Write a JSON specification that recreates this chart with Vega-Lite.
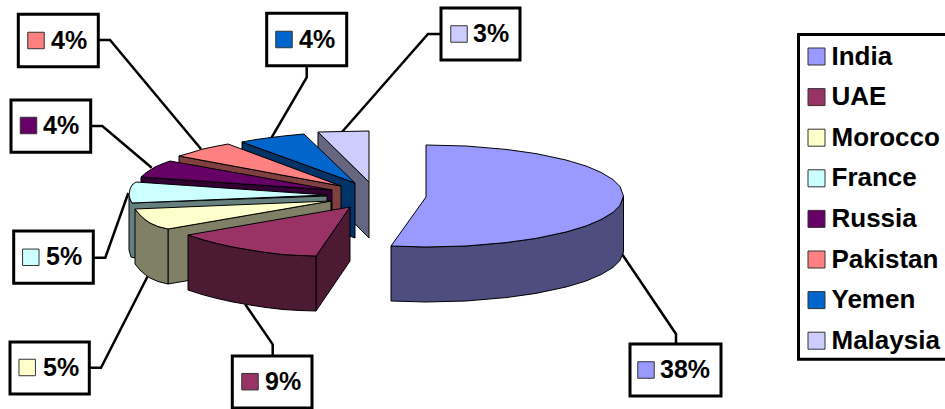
{
  "$schema": "https://vega.github.io/schema/vega-lite/v6.json",
  "width": 945,
  "height": 409,
  "padding": 0,
  "autosize": "none",
  "background": "white",
  "view": {"stroke": null},
  "config": {"font": "Liberation Sans"},
  "datasets": {
    "sides": [
      {"slice":"Malaysia","face":"cut","step":1,"x":318,"y":132},{"slice":"Malaysia","face":"cut","step":2,"x":369,"y":182},{"slice":"Malaysia","face":"cut","step":3,"x":369,"y":238},{"slice":"Malaysia","face":"cut","step":4,"x":318,"y":187},
      {"slice":"Yemen","face":"cut","step":1,"x":242,"y":142},{"slice":"Yemen","face":"cut","step":2,"x":355,"y":183},{"slice":"Yemen","face":"cut","step":3,"x":355,"y":238},{"slice":"Yemen","face":"cut","step":4,"x":242,"y":197},
      {"slice":"Pakistan","face":"cut","step":1,"x":179,"y":156},{"slice":"Pakistan","face":"cut","step":2,"x":341,"y":186},{"slice":"Pakistan","face":"cut","step":3,"x":341,"y":241},{"slice":"Pakistan","face":"cut","step":4,"x":179,"y":211},
      {"slice":"Russia","face":"cut","step":1,"x":141,"y":177},{"slice":"Russia","face":"cut","step":2,"x":332,"y":190},{"slice":"Russia","face":"cut","step":3,"x":332,"y":245},{"slice":"Russia","face":"cut","step":4,"x":141,"y":232},
      {"slice":"France","face":"cut","step":1,"x":129,"y":195},{"slice":"France","face":"cut","step":2,"x":130,"y":199},{"slice":"France","face":"cut","step":3,"x":132,"y":203},{"slice":"France","face":"cut","step":4,"x":327,"y":196},{"slice":"France","face":"cut","step":5,"x":327,"y":251},{"slice":"France","face":"cut","step":6,"x":135,"y":258},{"slice":"France","face":"cut","step":7,"x":131,"y":257},{"slice":"France","face":"cut","step":8,"x":129,"y":250},
      {"slice":"Morocco","face":"cut","step":1,"x":168,"y":229},{"slice":"Morocco","face":"cut","step":2,"x":331,"y":201},{"slice":"Morocco","face":"cut","step":3,"x":331,"y":256},{"slice":"Morocco","face":"cut","step":4,"x":168,"y":284},
      {"slice":"Morocco","face":"rim","step":1,"x":135,"y":209},{"slice":"Morocco","face":"rim","step":2,"x":140,"y":215},{"slice":"Morocco","face":"rim","step":3,"x":145,"y":219.5},{"slice":"Morocco","face":"rim","step":4,"x":150,"y":223},{"slice":"Morocco","face":"rim","step":5,"x":158,"y":226.5},{"slice":"Morocco","face":"rim","step":6,"x":168,"y":229},{"slice":"Morocco","face":"rim","step":7,"x":168,"y":284},{"slice":"Morocco","face":"rim","step":8,"x":158,"y":281.5},{"slice":"Morocco","face":"rim","step":9,"x":150,"y":278},{"slice":"Morocco","face":"rim","step":10,"x":145,"y":274.5},{"slice":"Morocco","face":"rim","step":11,"x":140,"y":270},{"slice":"Morocco","face":"rim","step":12,"x":135,"y":264},
      {"slice":"UAE","face":"cut","step":1,"x":316,"y":256},{"slice":"UAE","face":"cut","step":2,"x":350,"y":207},{"slice":"UAE","face":"cut","step":3,"x":350,"y":261},{"slice":"UAE","face":"cut","step":4,"x":316,"y":311},
      {"slice":"UAE","face":"rim","step":1,"x":188,"y":235},{"slice":"UAE","face":"rim","step":2,"x":202,"y":239.5},{"slice":"UAE","face":"rim","step":3,"x":217,"y":243.5},{"slice":"UAE","face":"rim","step":4,"x":233,"y":247},{"slice":"UAE","face":"rim","step":5,"x":250,"y":250},{"slice":"UAE","face":"rim","step":6,"x":266,"y":252.5},{"slice":"UAE","face":"rim","step":7,"x":283,"y":254.5},{"slice":"UAE","face":"rim","step":8,"x":300,"y":255.5},{"slice":"UAE","face":"rim","step":9,"x":316,"y":256},{"slice":"UAE","face":"rim","step":10,"x":316,"y":311},{"slice":"UAE","face":"rim","step":11,"x":300,"y":310.5},{"slice":"UAE","face":"rim","step":12,"x":283,"y":309.5},{"slice":"UAE","face":"rim","step":13,"x":266,"y":307.5},{"slice":"UAE","face":"rim","step":14,"x":250,"y":305},{"slice":"UAE","face":"rim","step":15,"x":233,"y":302},{"slice":"UAE","face":"rim","step":16,"x":217,"y":298.5},{"slice":"UAE","face":"rim","step":17,"x":202,"y":294.5},{"slice":"UAE","face":"rim","step":18,"x":188,"y":290},
      {"slice":"India","face":"rim","step":1,"x":391,"y":246},{"slice":"India","face":"rim","step":2,"x":426,"y":247},{"slice":"India","face":"rim","step":3,"x":466,"y":246},{"slice":"India","face":"rim","step":4,"x":506,"y":242.6},{"slice":"India","face":"rim","step":5,"x":536,"y":238.4},{"slice":"India","face":"rim","step":6,"x":566,"y":232},{"slice":"India","face":"rim","step":7,"x":586,"y":226},{"slice":"India","face":"rim","step":8,"x":601,"y":219.6},{"slice":"India","face":"rim","step":9,"x":613,"y":212.4},{"slice":"India","face":"rim","step":10,"x":620,"y":205.5},{"slice":"India","face":"rim","step":11,"x":623.5,"y":196},{"slice":"India","face":"rim","step":12,"x":623.5,"y":252},{"slice":"India","face":"rim","step":13,"x":620,"y":260.5},{"slice":"India","face":"rim","step":14,"x":613,"y":267.4},{"slice":"India","face":"rim","step":15,"x":601,"y":274.6},{"slice":"India","face":"rim","step":16,"x":586,"y":281},{"slice":"India","face":"rim","step":17,"x":566,"y":287},{"slice":"India","face":"rim","step":18,"x":536,"y":293.4},{"slice":"India","face":"rim","step":19,"x":506,"y":297.6},{"slice":"India","face":"rim","step":20,"x":466,"y":301},{"slice":"India","face":"rim","step":21,"x":426,"y":302},{"slice":"India","face":"rim","step":22,"x":391,"y":301}
    ],
    "tops": [
      {"slice":"Malaysia","step":1,"x":318,"y":132},{"slice":"Malaysia","step":2,"x":343,"y":131.5},{"slice":"Malaysia","step":3,"x":369,"y":131},{"slice":"Malaysia","step":4,"x":369,"y":182},
      {"slice":"Yemen","step":1,"x":242,"y":142},{"slice":"Yemen","step":2,"x":256,"y":139.5},{"slice":"Yemen","step":3,"x":271,"y":137.5},{"slice":"Yemen","step":4,"x":288,"y":135.5},{"slice":"Yemen","step":5,"x":304,"y":134},{"slice":"Yemen","step":6,"x":355,"y":183},
      {"slice":"Pakistan","step":1,"x":179,"y":156},{"slice":"Pakistan","step":2,"x":190,"y":153},{"slice":"Pakistan","step":3,"x":203,"y":149},{"slice":"Pakistan","step":4,"x":215,"y":146.5},{"slice":"Pakistan","step":5,"x":228,"y":144},{"slice":"Pakistan","step":6,"x":341,"y":186},
      {"slice":"Russia","step":1,"x":141,"y":177},{"slice":"Russia","step":2,"x":147,"y":172},{"slice":"Russia","step":3,"x":155,"y":167},{"slice":"Russia","step":4,"x":162,"y":164},{"slice":"Russia","step":5,"x":170,"y":161},{"slice":"Russia","step":6,"x":332,"y":190},
      {"slice":"France","step":1,"x":136,"y":182},{"slice":"France","step":2,"x":132,"y":185},{"slice":"France","step":3,"x":130,"y":189},{"slice":"France","step":4,"x":129,"y":195},{"slice":"France","step":5,"x":130,"y":199},{"slice":"France","step":6,"x":132,"y":203},{"slice":"France","step":7,"x":327,"y":195},
      {"slice":"Morocco","step":1,"x":135,"y":209},{"slice":"Morocco","step":2,"x":140,"y":215},{"slice":"Morocco","step":3,"x":145,"y":219.5},{"slice":"Morocco","step":4,"x":150,"y":223},{"slice":"Morocco","step":5,"x":158,"y":226.5},{"slice":"Morocco","step":6,"x":168,"y":229},{"slice":"Morocco","step":7,"x":331,"y":201},
      {"slice":"UAE","step":1,"x":188,"y":235},{"slice":"UAE","step":2,"x":202,"y":239.5},{"slice":"UAE","step":3,"x":217,"y":243.5},{"slice":"UAE","step":4,"x":233,"y":247},{"slice":"UAE","step":5,"x":250,"y":250},{"slice":"UAE","step":6,"x":266,"y":252.5},{"slice":"UAE","step":7,"x":283,"y":254.5},{"slice":"UAE","step":8,"x":300,"y":255.5},{"slice":"UAE","step":9,"x":316,"y":256},{"slice":"UAE","step":10,"x":350,"y":207},
      {"slice":"India","step":1,"x":426,"y":145},{"slice":"India","step":2,"x":466,"y":146},{"slice":"India","step":3,"x":506,"y":149.4},{"slice":"India","step":4,"x":536,"y":153.6},{"slice":"India","step":5,"x":566,"y":160},{"slice":"India","step":6,"x":586,"y":166},{"slice":"India","step":7,"x":601,"y":172.4},{"slice":"India","step":8,"x":613,"y":179.6},{"slice":"India","step":9,"x":620,"y":186.5},{"slice":"India","step":10,"x":623.5,"y":196},{"slice":"India","step":11,"x":620,"y":205.5},{"slice":"India","step":12,"x":613,"y":212.4},{"slice":"India","step":13,"x":601,"y":219.6},{"slice":"India","step":14,"x":586,"y":226},{"slice":"India","step":15,"x":566,"y":232},{"slice":"India","step":16,"x":536,"y":238.4},{"slice":"India","step":17,"x":506,"y":242.6},{"slice":"India","step":18,"x":466,"y":246},{"slice":"India","step":19,"x":426,"y":247},{"slice":"India","step":20,"x":391,"y":246},{"slice":"India","step":21,"x":426,"y":197}
    ],
    "leaders": [
      {"slice":"India","step":1,"x":676,"y":344},{"slice":"India","step":2,"x":676,"y":334},{"slice":"India","step":3,"x":622,"y":254},
      {"slice":"UAE","step":1,"x":272.7,"y":356},{"slice":"UAE","step":2,"x":272.7,"y":344.3},{"slice":"UAE","step":3,"x":245,"y":304},
      {"slice":"Morocco","step":1,"x":89.3,"y":367.7},{"slice":"Morocco","step":2,"x":101,"y":367.7},{"slice":"Morocco","step":3,"x":148.3,"y":275},
      {"slice":"France","step":1,"x":93.3,"y":257.7},{"slice":"France","step":2,"x":105.3,"y":257.7},{"slice":"France","step":3,"x":128.3,"y":193},
      {"slice":"Russia","step":1,"x":90.7,"y":126},{"slice":"Russia","step":2,"x":102.3,"y":126},{"slice":"Russia","step":3,"x":151.7,"y":167.7},
      {"slice":"Pakistan","step":1,"x":98,"y":40},{"slice":"Pakistan","step":2,"x":110,"y":40},{"slice":"Pakistan","step":3,"x":201,"y":149},
      {"slice":"Yemen","step":1,"x":306.7,"y":65.7},{"slice":"Yemen","step":2,"x":306.7,"y":77.3},{"slice":"Yemen","step":3,"x":271.7,"y":137.3},
      {"slice":"Malaysia","step":1,"x":441,"y":34},{"slice":"Malaysia","step":2,"x":428,"y":34},{"slice":"Malaysia","step":3,"x":342,"y":132}
    ],
    "labels": [
      {"slice":"India","share":0.38,"left":630,"right":721,"top":344,"bottom":396,"keyX":646,"textX":660,"midY":370},
      {"slice":"UAE","share":0.09,"left":232.3,"right":312,"top":356,"bottom":408,"keyX":250,"textX":265,"midY":381.7},
      {"slice":"Morocco","share":0.05,"left":10,"right":89.3,"top":342,"bottom":394,"keyX":27.2,"textX":43,"midY":367.5},
      {"slice":"France","share":0.05,"left":13.7,"right":93.3,"top":231,"bottom":283.3,"keyX":30.8,"textX":46,"midY":257.3},
      {"slice":"Russia","share":0.04,"left":11,"right":90.7,"top":100,"bottom":152.3,"keyX":28.5,"textX":43,"midY":125.5},
      {"slice":"Pakistan","share":0.04,"left":18.3,"right":98.3,"top":14.3,"bottom":66.7,"keyX":36,"textX":51,"midY":40.5},
      {"slice":"Yemen","share":0.04,"left":266.7,"right":346.7,"top":13.3,"bottom":65.7,"keyX":284,"textX":299,"midY":39.5},
      {"slice":"Malaysia","share":0.03,"left":441,"right":520,"top":8,"bottom":60,"keyX":459,"textX":473,"midY":34}
    ],
    "frame": [
      {"left":798.5,"right":950,"top":34.5,"bottom":359.3}
    ]
  },
  "layer": [
    {
      "description": "Leader lines from each label box to its slice",
      "data": {"name": "leaders"},
      "mark": {"type": "line", "stroke": "black", "strokeWidth": 2.5, "strokeJoin": "miter"},
      "encoding": {
        "x": {"field": "x", "type": "quantitative", "scale": {"domain": [0, 945], "nice": false, "zero": false}, "axis": null},
        "y": {"field": "y", "type": "quantitative", "scale": {"domain": [409, 0], "nice": false, "zero": false}, "axis": null},
        "detail": {"field": "slice"},
        "order": {"field": "step", "type": "quantitative"}
      }
    },
    {
      "description": "Shaded thickness of the slices",
      "data": {"name": "sides"},
      "mark": {"type": "line", "interpolate": "linear-closed", "stroke": "black", "strokeWidth": 1},
      "encoding": {
        "x": {"field": "x", "type": "quantitative", "axis": null},
        "y": {"field": "y", "type": "quantitative", "axis": null},
        "fill": {
          "field": "slice",
          "type": "nominal",
          "legend": null,
          "scale": {
            "domain": ["India", "UAE", "Morocco", "France", "Russia", "Pakistan", "Yemen", "Malaysia"],
            "range": ["#4D4D80", "#4D1A33", "#808066", "#668080", "#330033", "#804040", "#003366", "#666680"]
          }
        },
        "detail": {"field": "face"},
        "order": {"field": "step", "type": "quantitative"}
      }
    },
    {
      "description": "Top faces of the slices",
      "data": {"name": "tops"},
      "mark": {"type": "line", "interpolate": "linear-closed", "stroke": "black", "strokeWidth": 1},
      "encoding": {
        "x": {"field": "x", "type": "quantitative", "axis": null},
        "y": {"field": "y", "type": "quantitative", "axis": null},
        "fill": {
          "field": "slice",
          "type": "nominal",
          "legend": null,
          "scale": {
            "domain": ["India", "UAE", "Morocco", "France", "Russia", "Pakistan", "Yemen", "Malaysia"],
            "range": ["#9999FF", "#993366", "#FFFFCC", "#CCFFFF", "#660066", "#FF8080", "#0066CC", "#CCCCFF"]
          }
        },
        "order": {"field": "step", "type": "quantitative"}
      }
    },
    {
      "description": "Frame around the legend; it runs past the right edge of the canvas",
      "data": {"name": "frame"},
      "mark": {"type": "rect", "fill": null, "stroke": "black", "strokeWidth": 3},
      "encoding": {
        "x": {"field": "left", "type": "quantitative", "axis": null},
        "x2": {"field": "right"},
        "y": {"field": "top", "type": "quantitative", "axis": null},
        "y2": {"field": "bottom"}
      }
    },
    {
      "description": "Label boxes",
      "data": {"name": "labels"},
      "mark": {"type": "rect", "fill": "white", "stroke": "black", "strokeWidth": 3},
      "encoding": {
        "x": {"field": "left", "type": "quantitative", "axis": null},
        "x2": {"field": "right"},
        "y": {"field": "top", "type": "quantitative", "axis": null},
        "y2": {"field": "bottom"}
      }
    },
    {
      "description": "Colour keys inside the label boxes, which also carry the legend",
      "data": {"name": "labels"},
      "mark": {"type": "point", "shape": "square", "filled": true, "size": 272, "opacity": 1, "stroke": "#333333", "strokeWidth": 1},
      "encoding": {
        "x": {"field": "keyX", "type": "quantitative", "axis": null},
        "y": {"field": "midY", "type": "quantitative", "axis": null},
        "fill": {
          "field": "slice",
          "type": "nominal",
          "scale": {
            "domain": ["India", "UAE", "Morocco", "France", "Russia", "Pakistan", "Yemen", "Malaysia"],
            "range": ["#9999FF", "#993366", "#FFFFCC", "#CCFFFF", "#660066", "#FF8080", "#0066CC", "#CCCCFF"]
          },
          "legend": {
            "title": null,
            "orient": "none",
            "legendX": 803.5,
            "legendY": 43.5,
            "padding": 0,
            "symbolType": "square",
            "symbolSize": 289,
            "symbolStrokeColor": "#333333",
            "symbolStrokeWidth": 1,
            "symbolOpacity": 1,
            "labelFont": "Liberation Sans",
            "labelFontSize": 26,
            "labelFontWeight": "bold",
            "labelColor": "black",
            "labelOffset": 2,
            "labelLimit": 200,
            "rowPadding": 14.6
          }
        }
      }
    },
    {
      "description": "Percentage labels",
      "data": {"name": "labels"},
      "mark": {"type": "text", "align": "left", "baseline": "middle", "font": "Liberation Sans", "fontWeight": "bold", "fontSize": 25, "fill": "black"},
      "encoding": {
        "x": {"field": "textX", "type": "quantitative", "axis": null},
        "y": {"field": "midY", "type": "quantitative", "axis": null},
        "text": {"field": "share", "type": "quantitative", "format": ".0%"}
      }
    }
  ],
  "resolve": {"scale": {"fill": "independent"}}
}
